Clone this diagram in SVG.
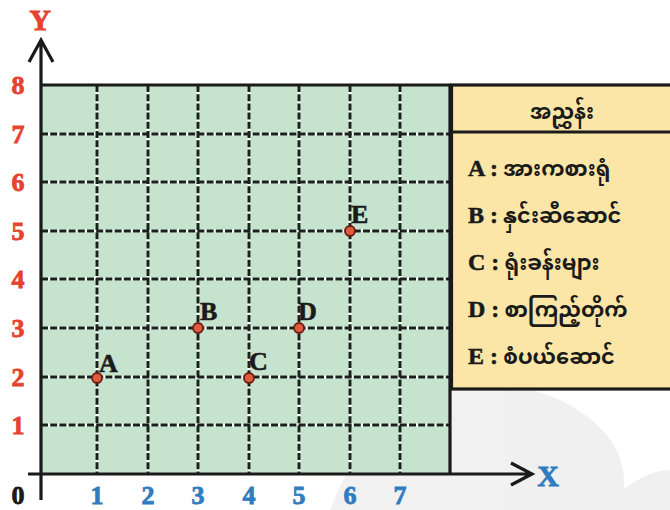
<svg xmlns="http://www.w3.org/2000/svg" width="670" height="510" viewBox="0 0 670 510">
<defs>
<style>
.gw{stroke:#ffffff;stroke-width:3;fill:none}
.gd{stroke:#17231a;stroke-width:3;stroke-dasharray:7 2.2;fill:none}
.ax{stroke:#1a1a1a;stroke-width:3.2;fill:none}
.yl{font-family:"Liberation Serif",serif;font-weight:bold;font-size:26px;fill:#e5432e;stroke:#e5432e;stroke-width:0.8;text-anchor:middle}
.xl{font-family:"Liberation Serif",serif;font-weight:bold;font-size:26px;fill:#2f7cc0;stroke:#2f7cc0;stroke-width:0.8;text-anchor:middle}
.pt{fill:#e05a40;stroke:#6a1c12;stroke-width:1.8}
.pl{font-family:"Liberation Serif",serif;font-weight:bold;font-size:26px;fill:#1a1a1a;stroke:#1a1a1a;stroke-width:0.6}
.lg{font-family:"Liberation Serif","Noto Sans Myanmar","Padauk","Myanmar Text",serif;font-weight:bold;font-size:21px;fill:#1a1a1a}
.lk{font-size:24px;stroke:#1a1a1a;stroke-width:0.5}
</style>
</defs>
<rect width="670" height="510" fill="#ffffff"/>
<g id="watermark" opacity="0.14">
<path d="M330 510 Q400 330 560 400 Q640 440 620 510 Z" fill="#9a9a9a"/>
<path d="M600 510 Q640 470 670 470 L670 510 Z" fill="#9a9a9a"/>
</g>
<g id="grid">
<rect x="41" y="85" width="409" height="389" fill="#c6e3cd"/>
<g class="gw">
<path d="M97 85V474M148 85V474M198 85V474M249 85V474M299 85V474M350 85V474M400 85V474"/>
<path d="M41 134H450M41 182H450M41 231H450M41 279H450M41 328H450M41 377H450M41 425H450"/>
</g>
<g class="gd">
<path d="M97 85V474M148 85V474M198 85V474M249 85V474M299 85V474M350 85V474M400 85V474"/>
<path d="M41 134H450M41 182H450M41 231H450M41 279H450M41 328H450M41 377H450M41 425H450"/>
</g>
<path class="ax" d="M41 85H451M450 85V474"/>
</g>
<g id="legend">
<rect x="451.5" y="85" width="222" height="304" fill="#fbe6a8" stroke="#1a1a1a" stroke-width="3.2"/>
<line x1="451.5" y1="132" x2="670" y2="132" stroke="#1a1a1a" stroke-width="3.2"/>
<text class="lg" x="562" y="119" text-anchor="middle">အညွှန်း</text>
<text class="lg" x="468" y="176"><tspan class="lk">A :</tspan> အားကစားရုံ</text>
<text class="lg" x="468" y="223"><tspan class="lk">B :</tspan> နှင်းဆီဆောင်</text>
<text class="lg" x="468" y="270"><tspan class="lk">C :</tspan> ရုံးခန်းများ</text>
<text class="lg" x="468" y="317"><tspan class="lk">D :</tspan> စာကြည့်တိုက်</text>
<text class="lg" x="468" y="364"><tspan class="lk">E :</tspan> စံပယ်ဆောင်</text>
</g>
<g id="axes">
<path class="ax" d="M41 500V40M29 62L41 40L53 62"/>
<path class="ax" d="M28 474H532M511 463L532 474L511 485"/>
<text x="40" y="30" font-family="Liberation Serif,serif" font-weight="bold" font-size="30" fill="#e5432e" stroke="#e5432e" stroke-width="0.8" text-anchor="middle">Y</text>
<text x="548" y="486" font-family="Liberation Serif,serif" font-weight="bold" font-size="30" fill="#2f7cc0" stroke="#2f7cc0" stroke-width="0.8" text-anchor="middle">X</text>
<text x="18" y="504" font-family="Liberation Serif,serif" font-weight="bold" font-size="26" fill="#1a1a1a" stroke="#1a1a1a" stroke-width="0.8" text-anchor="middle">0</text>
</g>
<g id="ylabels">
<text class="yl" x="18" y="94">8</text>
<text class="yl" x="18" y="143">7</text>
<text class="yl" x="18" y="191">6</text>
<text class="yl" x="18" y="240">5</text>
<text class="yl" x="18" y="288">4</text>
<text class="yl" x="18" y="337">3</text>
<text class="yl" x="18" y="386">2</text>
<text class="yl" x="18" y="434">1</text>
</g>
<g id="xlabels">
<text class="xl" x="97" y="504">1</text>
<text class="xl" x="148" y="504">2</text>
<text class="xl" x="198" y="504">3</text>
<text class="xl" x="249" y="504">4</text>
<text class="xl" x="299" y="504">5</text>
<text class="xl" x="350" y="504">6</text>
<text class="xl" x="400" y="504">7</text>
</g>
<g id="A"><circle class="pt" cx="97" cy="378" r="5"/><text class="pl" x="99" y="372">A</text></g>
<g id="B"><circle class="pt" cx="198" cy="328" r="5"/><text class="pl" x="200" y="320">B</text></g>
<g id="C"><circle class="pt" cx="249" cy="378" r="5"/><text class="pl" x="249" y="370">C</text></g>
<g id="D"><circle class="pt" cx="299" cy="328" r="5"/><text class="pl" x="298" y="320">D</text></g>
<g id="E"><circle class="pt" cx="350" cy="231" r="5"/><text class="pl" x="351" y="223">E</text></g>
</svg>
